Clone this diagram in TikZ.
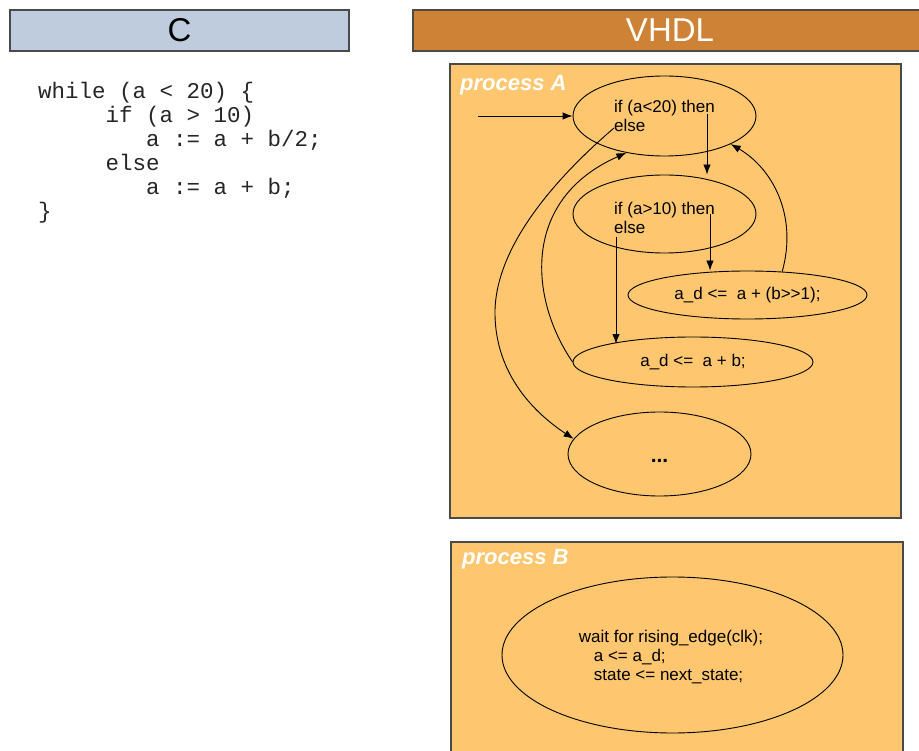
\documentclass[tikz,border=0pt]{standalone}
\usepackage{fontspec}
\setmainfont{Liberation Sans}
\newfontfamily\codefont{Liberation Mono}
\usetikzlibrary{shapes.geometric,arrows.meta,calc}
\definecolor{cblue}{HTML}{BECCDE}
\definecolor{vhdlor}{HTML}{CD8236}
\definecolor{procor}{HTML}{FEC66E}
\definecolor{boxline}{HTML}{4A4A4A}
\tikzset{
  hdr/.style={draw=boxline, line width=1.2pt, inner sep=0pt, minimum height=41pt, font=\fontsize{33}{36}\selectfont},
  procbox/.style={draw=boxline, line width=1.2pt, fill=procor, inner sep=0pt},
  proclabel/.style={anchor=base west, inner sep=0pt, text=white, font=\fontsize{22}{24}\selectfont\bfseries\itshape},
  state/.style={ellipse, draw=black, line width=0.9pt, inner sep=0pt, align=left, font=\fontsize{17}{19}\selectfont},
  statetext/.style={inner sep=0pt, align=left, font=\fontsize{17}{19}\selectfont},
  code/.style={anchor=base west, inner sep=0pt, text=black!85, font=\codefont\fontsize{22.5}{24}\selectfont},
  arr/.style={draw=black, line width=0.9pt, -{Latex[length=10pt,width=7.5pt]}}
}
\begin{document}
\begin{tikzpicture}[x=1pt,y=-1pt]
\useasboundingbox (0,0) rectangle (919,751);
\begin{scope}
\clip (0,0) rectangle (919,751);
% headers
\node[hdr, fill=cblue, minimum width=339pt] (hC) at (179.5,30.5) {C};
\node[hdr, fill=vhdlor, text=white, minimum width=514pt] (hV) at (670,30.5) {VHDL};
% C code
\node[code] (c1) at (38,99) {while (a < 20) \{};
\node[code] (c2) at (105.5,123) {if (a > 10)};
\node[code] (c3) at (146,147) {a := a + b/2;};
\node[code] (c4) at (105.5,171) {else};
\node[code] (c5) at (146,195) {a := a + b;};
\node[code] (c6) at (38,219) {\}};
% process boxes
\node[procbox, minimum width=451pt, minimum height=454pt] (pA) at (675.5,291) {};
\node[proclabel] (lA) at (460,91) {process A};
\node[procbox, minimum width=452pt, minimum height=240pt] (pB) at (677,662) {};
\node[proclabel] (lB) at (462,564) {process B};
% states
\node[state, minimum width=183pt, minimum height=80pt] (e1) at (664.5,116) {if (a<20) then\\else};
\node[state, minimum width=183pt, minimum height=78pt] (e2) at (664.5,214) {};
\node[statetext] (t2) at (664.5,218) {if (a>10) then\\else};
\node[state, minimum width=239pt, minimum height=48pt] (e3) at (747.5,295) {a\_d <=\ \ a + (b>\kern0pt>1);};
\node[state, minimum width=240pt, minimum height=50pt] (e4) at (693,362) {a\_d <=\ \ a + b;};
\node[state, minimum width=183pt, minimum height=84pt] (e5) at (659.5,454) {};
\node[statetext, font=\fontsize{21}{24}\selectfont\bfseries] (t5) at (659.5,461) {...};
\node[state, minimum width=341pt, minimum height=156pt] (eB) at (672.5,655) {};
\node[statetext] (tB) at (671,657) {wait for rising\_edge(clk);\\\hspace*{15pt}a <= a\_d;\\\hspace*{15pt}state <= next\_state;};
% connectors
\coordinate (entry) at (478,116);
\coordinate (then1) at (707,114);
\coordinate (then2) at (710,214);
\coordinate (else1) at (614,128);
\coordinate (else2) at (616,237);
\draw[arr] (entry) -- (e1.west);
\draw[arr] (then1) -- (then1 |- e2.north);
\draw[arr] (then2) -- (then2 |- e3.north);
\draw[arr] (else2) -- (else2 |- e4.north west);
\draw[arr] (e3.34) .. controls (798,215) and (772,168) .. (e1.-23);
\draw[arr] (e4.west) .. controls (530,300) and (520,200) .. (e1.-136);
\draw[arr] (else1) .. controls (565,170) and (497,240) .. (495,310) .. controls (494,370) and (530,410) .. (e5.170);
\end{scope}
\end{tikzpicture}
\end{document}
